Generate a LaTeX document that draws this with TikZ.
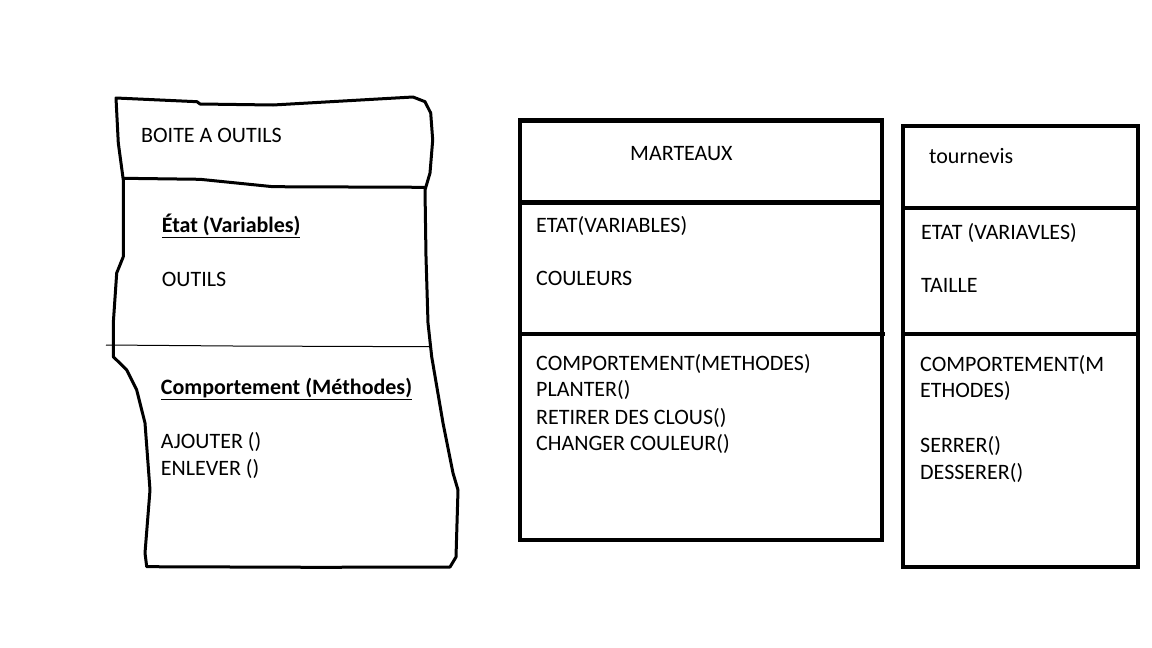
\documentclass[tikz,border=0pt]{standalone}
\usepackage{fontspec}
\setmainfont{Carlito}
\usepackage{tikz}

\tikzset{
  txt/.style={anchor=base west, inner sep=0pt, font=\fontsize{22}{26}\selectfont},
  head/.style={txt, font=\fontsize{22}{26}\selectfont\bfseries},
  boxline/.style={line width=4.5pt, line join=miter},
  handline/.style={line width=3pt, line join=round, line cap=round}
}

\begin{document}
\begin{tikzpicture}[x=1pt, y=-1pt]
\useasboundingbox (0,0) rectangle (1152,648);

% boite a outils, drawn by hand
\draw[handline] (116,98) -- (197,101.7) -- (200,104) -- (273,105) -- (413,97) -- (425,101.7)
  -- (430.7,113) -- (432.7,140) -- (430,173) -- (425,190) -- (426,256.7) -- (428,323)
  -- (431.7,356.7) -- (443,423) -- (453,473) -- (458,490) -- (456,557) -- (450,567)
  -- (316.7,567.3) -- (146.7,566.7) -- (145,553) -- (150,490) -- (145,423) -- (136.7,390)
  -- (126.7,370) -- (113.3,356.7) -- (113.3,323) -- (116.7,273) -- (123.3,256.7)
  -- (123.3,180) -- (118.3,143) -- cycle;
\draw[handline] (123.3,178.3) -- (200,179.3) -- (273,186.7) -- (425,187.3);
\draw[line width=1pt] (106,345) -- (233.3,346) -- (430,346.7);

\node[txt] (boite) at (141,142.3) {BOITE A OUTILS};
\node[head] (etatB) at (161.7,232.7) {\underline{État (Variables)}};
\node[txt] (outils) at (161.7,286) {OUTILS};
\node[head] (compB) at (160.7,394) {\underline{Comportement (Méthodes)}};
\node[txt] (ajouter) at (160.7,448.3) {AJOUTER ()};
\node[txt] (enlever) at (160.7,475) {ENLEVER ()};

% marteaux
\draw[boxline] (520,120.5) rectangle (882,540);
\draw[boxline] (520,202.5) -- (882,202.5);
\draw[boxline] (520,334) -- (885,334);

\node[txt] (marteaux) at (630,160) {MARTEAUX};
\node[txt] (etatM) at (536,232.7) {ETAT(VARIABLES)};
\node[txt] (couleurs) at (536,285.7) {COULEURS};
\node[txt] (compM) at (536,370) {COMPORTEMENT(METHODES)};
\node[txt] (planter) at (536,396.7) {PLANTER()};
\node[txt] (retirer) at (536,424) {RETIRER DES CLOUS()};
\node[txt] (changer) at (536,450.7) {CHANGER COULEUR()};

% tournevis
\draw[boxline] (903,126) rectangle (1138,567);
\draw[boxline] (903,208) -- (1138,208);
\draw[boxline] (903,334) -- (1138,334);

\node[txt] (tournevis) at (929,163.3) {tournevis};
\node[txt] (etatT) at (921,239.3) {ETAT (VARIAVLES)};
\node[txt] (taille) at (921,292.7) {TAILLE};
\node[txt] (compT) at (920,371) {COMPORTEMENT(M};
\node[txt] (compT2) at (920,397.7) {ETHODES)};
\node[txt] (serrer) at (920,452.3) {SERRER()};
\node[txt] (desserer) at (920,479) {DESSERER()};
\end{tikzpicture}
\end{document}
